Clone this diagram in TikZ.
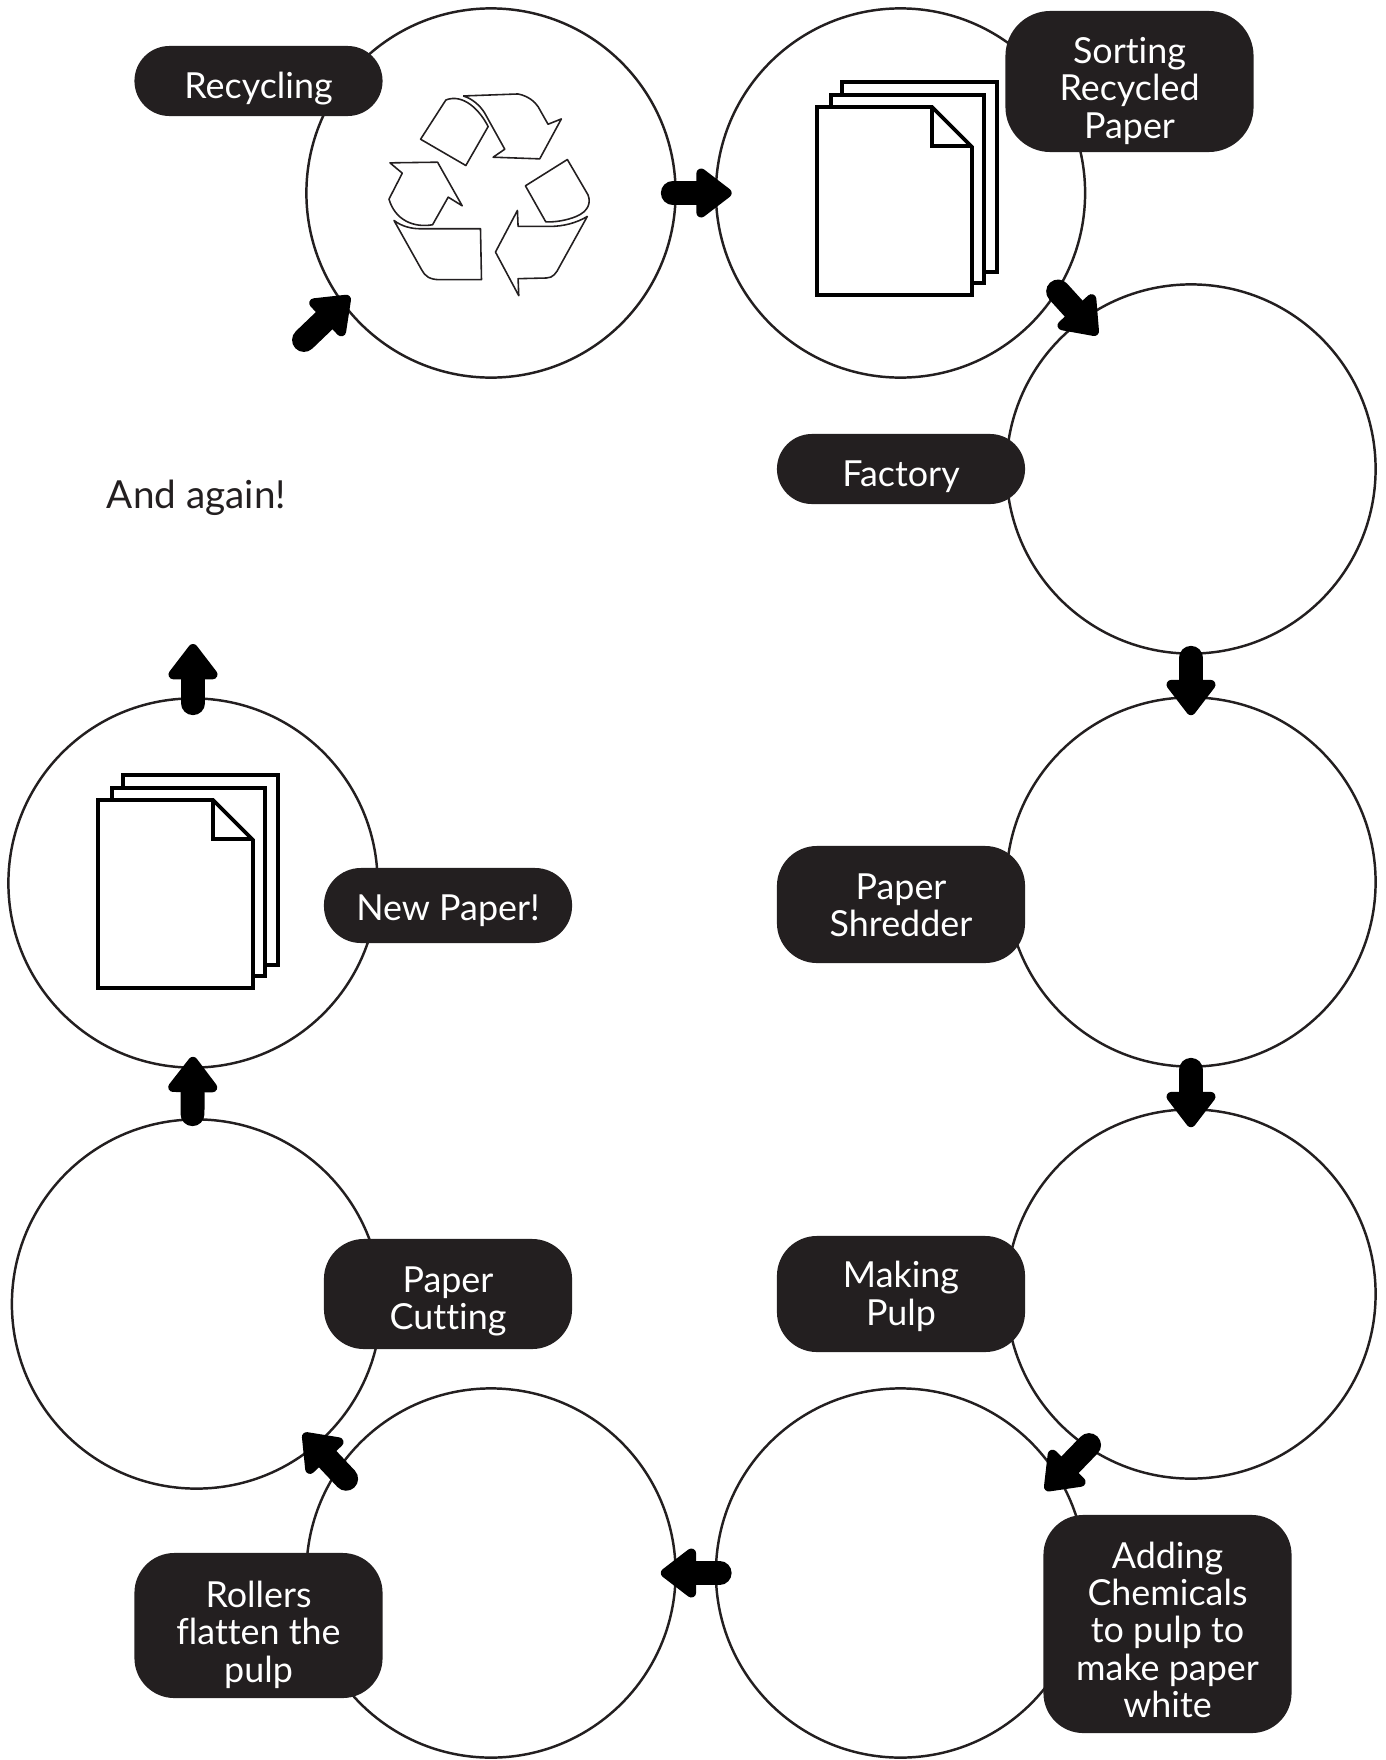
\documentclass[tikz,border=0pt]{standalone}
\usepackage{fontspec}
\setmainfont{Lato}[Ligatures=NoCommon]
\usetikzlibrary{arrows.meta}
\definecolor{inkdark}{RGB}{35,31,32}

\begin{document}
\begin{tikzpicture}[
    x=0.01cm, y=-0.01cm,
    stagecircle/.style={circle, draw=inkdark, line width=0.7pt, minimum size=3.69cm, inner sep=0pt},
    stagelabel/.style={rectangle, fill=inkdark, text=white, align=center, minimum width=2.48cm, inner sep=0pt, rounded corners=0.4cm, font=\fontsize{10.2}{10.6}\selectfont},
    textdrop/.style={execute at begin node={\rule{0pt}{#1}}},
    flowarrow/.style={line width=6.8pt, line cap=round, black, -{Triangle[round, length=11pt, width=16pt, line width=3.4pt]}},
    sheet/.style={draw=black, fill=white, line width=1.1pt, line join=miter},
    foldline/.style={draw=black, line width=1.1pt, line join=miter},
    recyclepart/.style={draw=inkdark, line width=0.45pt, line join=round},
    pics/paperstack/.style={code={
        \draw[sheet] (842,82) -- (997,82) -- (997,272) -- (842,272) -- cycle;
        \draw[sheet] (831,95) -- (984,95) -- (984,283) -- (831,283) -- cycle;
        \draw[sheet] (817,107) -- (932,107) -- (972,147) -- (972,295) -- (817,295) -- cycle;
        \draw[foldline] (932,107) -- (932,146) -- (972,146);
    }}
]
\useasboundingbox (0,0) rectangle (1386,1760);

% Stage circles
\node[stagecircle] (recycling) at (491,193) {};
\node[stagecircle] (sorting) at (900.5,193) {};
\node[stagecircle] (factory) at (1191,469) {};
\node[stagecircle] (shredder) at (1191,882) {};
\node[stagecircle] (pulp) at (1191,1294) {};
\node[stagecircle] (chemicals) at (900.5,1573) {};
\node[stagecircle] (rollers) at (491,1573) {};
\node[stagecircle] (cutting) at (196.5,1304) {};
\node[stagecircle] (newpaper) at (193,883) {};

% Paper icons
\pic at (0,0) {paperstack};
\pic at (-719,693) {paperstack};

% Recycling symbol
\begin{scope}[shift={(370,70)}, x=0.00333cm, y=-0.00333cm]
\draw[recyclepart] (152,208) -- (228,90) .. controls (280,70) and (330,120) .. (355,170) -- (288,287) -- cycle;
\draw[recyclepart] (280,78) -- (445,72) .. controls (475,78) and (495,95) .. (505,110) -- (535,163) -- (575,147) -- (510,267) -- (370,262) -- (405,238) -- (345,130) .. controls (330,105) and (305,85) .. (280,78);
\draw[recyclepart] (60,279) -- (203,277) -- (277,408) -- (235,382) -- (188,465) .. controls (130,475) and (75,450) .. (57,388) -- (97,310) -- cycle;
\draw[recyclepart] (72,452) .. controls (95,470) and (125,477) .. (150,477) -- (332,477) -- (335,630) -- (210,630) .. controls (180,630) and (165,620) .. (155,600) -- cycle;
\draw[recyclepart] (467,348) -- (593,269) -- (655,375) .. controls (665,400) and (655,425) .. (620,440) .. controls (590,452) and (555,458) .. (528,456) -- cycle;
\draw[recyclepart] (653,440) .. controls (620,460) and (580,470) .. (540,470) -- (445,470) -- (443,422) -- (377,547) -- (447,678) -- (445,627) -- (530,625) .. controls (550,625) and (560,610) .. (570,590) -- cycle;
\end{scope}

% Labels
\node[stagelabel, minimum height=0.7cm, rounded corners=0.35cm, textdrop=11.6pt] (lblrecycling) at (258.5,81) {Recycling};
\node[stagelabel, minimum height=1.41cm, rounded corners=0.45cm, textdrop=33.9pt] (lblsorting) at (1129.5,81.5) {Sorting\\Recycled\\Paper};
\node[stagelabel, minimum height=0.7cm, rounded corners=0.35cm, textdrop=11.6pt] (lblfactory) at (901,469) {Factory};
\node[stagelabel, minimum height=1.17cm, textdrop=18.2pt] (lblshredder) at (901,904.5) {Paper\\Shredder};
\node[stagelabel, minimum height=1.16cm, textdrop=19.5pt] (lblpulp) at (901,1294) {Making\\Pulp};
\node[stagelabel, minimum height=2.18cm, textdrop=53.2pt] (lblchemicals) at (1167.5,1624) {Adding\\Chemicals\\to pulp to\\make paper\\white};
\node[stagelabel, minimum height=1.45cm, textdrop=33.9pt] (lblrollers) at (258.5,1625.5) {Rollers\\flatten the\\pulp};
\node[stagelabel, minimum height=1.1cm, textdrop=22.2pt] (lblcutting) at (448,1294) {Paper\\Cutting};
\node[stagelabel, minimum height=0.75cm, rounded corners=0.37cm, textdrop=10.5pt] (lblnewpaper) at (448,905.5) {New Paper!};
\node[text=inkdark, font=\fontsize{11}{12}\selectfont] (lblagain) at (196.5,497.5) {And again!};

% Flow arrows
\coordinate (loopin) at (304,340);
\coordinate (loopout) at (193,644);
\draw[flowarrow] (loopin) -- ([shift={(9,-6)}]recycling.-144);
\draw[flowarrow] ([shift={(-4,0)}]recycling.east) -- ([shift={(17,0)}]sorting.west);
\draw[flowarrow] (sorting.-32) -- ([shift={(13,18)}]factory.125);
\draw[flowarrow] ([shift={(0,3)}]factory.south) -- ([shift={(0,19)}]shredder.north);
\draw[flowarrow] ([shift={(0,2)}]shredder.south) -- ([shift={(0,19)}]pulp.north);
\draw[flowarrow] ([shift={(2,-3)}]pulp.-124) -- ([shift={(-16,10)}]chemicals.30);
\draw[flowarrow] ([shift={(5,0)}]chemicals.west) -- ([shift={(-16,0)}]rollers.east);
\draw[flowarrow] ([shift={(11,7)}]rollers.147) -- ([shift={(-10,-15)}]cutting.-51);
\draw[flowarrow] ([shift={(-4,-4)}]cutting.north) -- ([shift={(0,-12)}]newpaper.south);
\draw[flowarrow] ([shift={(0,6)}]newpaper.north) -- (loopout);

\end{tikzpicture}
\end{document}
